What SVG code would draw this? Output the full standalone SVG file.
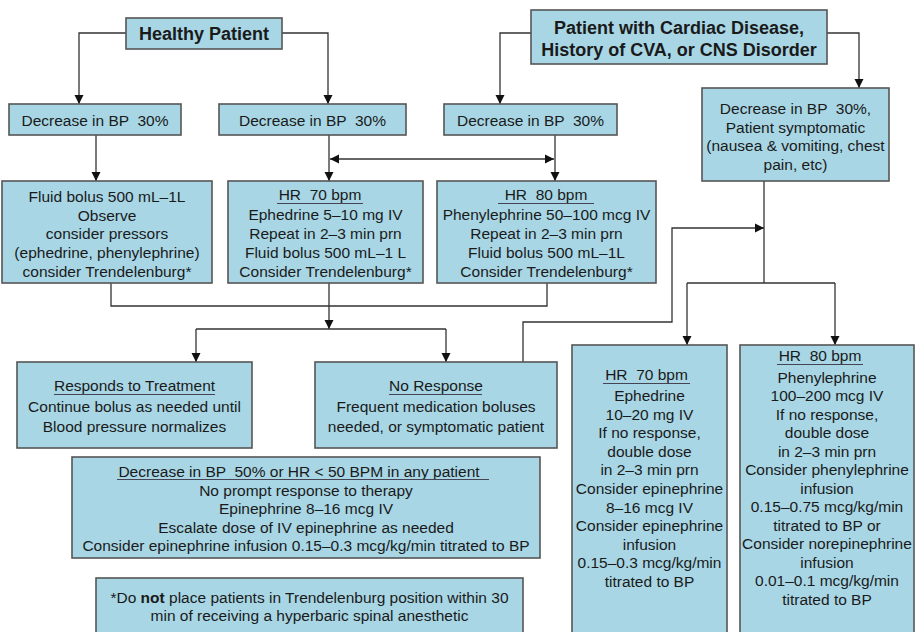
<svg xmlns="http://www.w3.org/2000/svg" width="917" height="632" viewBox="0 0 917 632">
<style>
.box{fill:#a8d6e5;stroke:#555;stroke-width:1.6}
text{font-family:"Liberation Sans",Arial,sans-serif;font-size:15.5px;fill:#1a1a1a;text-anchor:middle;white-space:pre}
.b{font-weight:bold;font-size:18px}
.ul{stroke:#445;stroke-width:1.2}
.c path{fill:none;stroke:#333;stroke-width:1.3}
</style>
<defs>
<marker id="ah" markerWidth="10" markerHeight="10" refX="9" refY="5" orient="auto" markerUnits="userSpaceOnUse">
<path d="M0,0.5 L9,5 L0,9.5 Z" fill="#111"/>
</marker>
<marker id="ahs" markerWidth="10" markerHeight="10" refX="9" refY="5" orient="auto-start-reverse" markerUnits="userSpaceOnUse">
<path d="M0,0.5 L9,5 L0,9.5 Z" fill="#111"/>
</marker>
</defs>
<rect width="917" height="632" fill="#fff"/>
<g class="c" id="connectors">
<path d="M126,33 H79 V104" marker-end="url(#ah)"/>
<path d="M282,33 H328 V104" marker-end="url(#ah)"/>
<path d="M531,33 H500 V104" marker-end="url(#ah)"/>
<path d="M827,33 H859 V88" marker-end="url(#ah)"/>
<path d="M96,135 V181" marker-end="url(#ah)"/>
<path d="M329,135 V181" marker-end="url(#ah)"/>
<path d="M555,135 V181" marker-end="url(#ah)"/>
<path d="M330,159 H554" marker-start="url(#ahs)" marker-end="url(#ahs)"/>
<path d="M111,283 V306 H547 V283"/>
<path d="M329,283 V329" marker-end="url(#ah)"/>
<path d="M196,329 H446"/>
<path d="M196,329 V362" marker-end="url(#ah)"/>
<path d="M446,329 V362" marker-end="url(#ah)"/>
<path d="M523,362 V322 H672 V228 H764" marker-end="url(#ah)"/>
<path d="M764,181 V283"/>
<path d="M687,283 H835"/>
<path d="M687,283 V345" marker-end="url(#ah)"/>
<path d="M835,283 V345" marker-end="url(#ah)"/>
</g>
<g id="healthy">
<rect class="box" x="126" y="18" width="156" height="31"/>
<text class="b" x="204" y="40">Healthy Patient</text>
</g>
<g id="cardiac">
<rect class="box" x="531" y="10" width="296" height="54"/>
<text class="b" x="679" y="33.5">Patient with Cardiac Disease,</text>
<text class="b" x="679" y="56">History of CVA, or CNS Disorder</text>
</g>
<g id="dec1">
<rect class="box" x="9" y="104" width="172" height="31"/>
<text x="95" y="126">Decrease in BP  30%</text>
</g>
<g id="dec2">
<rect class="box" x="219" y="104" width="187" height="31"/>
<text x="312.5" y="126">Decrease in BP  30%</text>
</g>
<g id="dec3">
<rect class="box" x="444" y="104" width="173" height="31"/>
<text x="530.5" y="126">Decrease in BP  30%</text>
</g>
<g id="dec4">
<rect class="box" x="702" y="88" width="187" height="93"/>
<text x="795.5" y="114">Decrease in BP  30%,</text>
<text x="795.5" y="132.7">Patient symptomatic</text>
<text x="795.5" y="151.4">(nausea &amp; vomiting, chest</text>
<text x="795.5" y="170">pain, etc)</text>
</g>
<g id="fluid">
<rect class="box" x="2" y="181" width="210" height="102"/>
<text x="107" y="202">Fluid bolus 500 mL–1L</text>
<text x="107" y="220.7">Observe</text>
<text x="107" y="239.4">consider pressors</text>
<text x="107" y="258.1">(ephedrine, phenylephrine)</text>
<text x="107" y="276.8">consider Trendelenburg*</text>
</g>
<g id="hr70mid">
<rect class="box" x="228" y="181" width="195" height="102"/>
<text x="320" y="200">HR  70 bpm</text>
<line class="ul" x1="277" y1="203.5" x2="363" y2="203.5"/>
<text x="325.5" y="219.5">Ephedrine 5–10 mg IV</text>
<text x="325.5" y="238.5">Repeat in 2–3 min prn</text>
<text x="325.5" y="257.5">Fluid bolus 500 mL–1 L</text>
<text x="325.5" y="276.5">Consider Trendelenburg*</text>
</g>
<g id="hr80mid">
<rect class="box" x="437" y="181" width="219" height="102"/>
<text x="546" y="200">HR  80 bpm</text>
<line class="ul" x1="498" y1="203.5" x2="594" y2="203.5"/>
<text x="546.5" y="219.5">Phenylephrine 50–100 mcg IV</text>
<text x="546.5" y="238.5">Repeat in 2–3 min prn</text>
<text x="546.5" y="257.5">Fluid bolus 500 mL–1L</text>
<text x="546.5" y="276.5">Consider Trendelenburg*</text>
</g>
<g id="responds">
<rect class="box" x="17" y="362" width="235" height="86"/>
<text x="134.5" y="391">Responds to Treatment</text>
<line class="ul" x1="54" y1="394.5" x2="215" y2="394.5"/>
<text x="134.5" y="412">Continue bolus as needed until</text>
<text x="134.5" y="432">Blood pressure normalizes</text>
</g>
<g id="noresponse">
<rect class="box" x="315" y="362" width="242" height="86"/>
<text x="436" y="391">No Response</text>
<line class="ul" x1="389" y1="394.5" x2="482" y2="394.5"/>
<text x="436" y="412">Frequent medication boluses</text>
<text x="436" y="432">needed, or symptomatic patient</text>
</g>
<g id="hr70right">
<rect class="box" x="572" y="345" width="155" height="300"/>
<text x="646.5" y="380">HR  70 bpm</text>
<line class="ul" x1="603" y1="383.5" x2="690" y2="383.5"/>
<text x="649.5" y="401">Ephedrine</text>
<text x="649.5" y="419.6">10–20 mg IV</text>
<text x="649.5" y="438.2">If no response,</text>
<text x="649.5" y="456.8">double dose</text>
<text x="649.5" y="475.4">in 2–3 min prn</text>
<text x="649.5" y="494">Consider epinephrine</text>
<text x="649.5" y="512.6">8–16 mcg IV</text>
<text x="649.5" y="531.2">Consider epinephrine</text>
<text x="649.5" y="549.8">infusion</text>
<text x="649.5" y="568.4">0.15–0.3 mcg/kg/min</text>
<text x="649.5" y="587">titrated to BP</text>
</g>
<g id="hr80right">
<rect class="box" x="740" y="345" width="174" height="300"/>
<text x="820" y="361">HR  80 bpm</text>
<line class="ul" x1="777" y1="364.5" x2="863" y2="364.5"/>
<text x="827" y="382.5">Phenylephrine</text>
<text x="827" y="401">100–200 mcg IV</text>
<text x="827" y="419.5">If no response,</text>
<text x="827" y="438">double dose</text>
<text x="827" y="456.5">in 2–3 min prn</text>
<text x="827" y="475">Consider phenylephrine</text>
<text x="827" y="493.5">infusion</text>
<text x="827" y="512">0.15–0.75 mcg/kg/min</text>
<text x="827" y="530.5">titrated to BP or</text>
<text x="827" y="549">Consider norepinephrine</text>
<text x="827" y="567.5">infusion</text>
<text x="827" y="586">0.01–0.1 mcg/kg/min</text>
<text x="827" y="604.5">titrated to BP</text>
</g>
<g id="severe">
<rect class="box" x="72" y="457" width="468" height="101"/>
<text x="299" y="477">Decrease in BP  50% or HR &lt; 50 BPM in any patient</text>
<line class="ul" x1="117" y1="479.5" x2="489" y2="479.5"/>
<text x="306" y="495.5">No prompt response to therapy</text>
<text x="306" y="514">Epinephrine 8–16 mcg IV</text>
<text x="306" y="532.5">Escalate dose of IV epinephrine as needed</text>
<text x="306" y="551">Consider epinephrine infusion 0.15–0.3 mcg/kg/min titrated to BP</text>
</g>
<g id="footnote">
<rect class="box" x="96" y="578" width="427" height="70"/>
<text x="309.5" y="602.5">*Do <tspan font-weight="bold">not</tspan> place patients in Trendelenburg position within 30</text>
<text x="309.5" y="620.5">min of receiving a hyperbaric spinal anesthetic</text>
</g>
</svg>
